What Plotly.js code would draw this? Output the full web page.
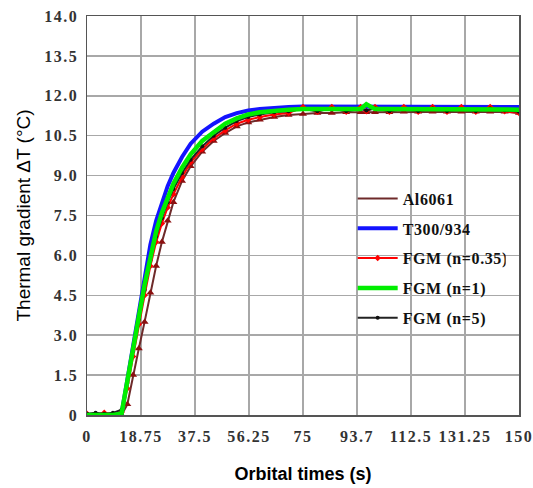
<!DOCTYPE html>
<html>
<head>
<meta charset="utf-8">
<script src="https://cdn.plot.ly/plotly-3.0.1.min.js"></script>
<style>
html,body{margin:0;padding:0;background:#fff;}
#chart{width:533px;height:488px;}
#chart .xtick text, #chart .ytick text{letter-spacing:1.5px;}
#chart .legendtext{letter-spacing:0.6px;}
</style>
</head>
<body>
<div id="chart"></div>
<script>
// Orbital time (s)
const timeS = [0,3,6,9,12,14,16,18,20,22,24,26,28,30,33,36,40,44,48,52,56,60,65,70,75,80,85,90,95,97,100,105,110,115,120,125,130,135,140,145,150];

// Thermal gradient ΔT (°C)
const al6061 = [0,0,0,0,0,0.4,1.5,2.5,3.5,4.6,5.6,6.5,7.3,8.0,8.8,9.35,9.9,10.3,10.6,10.85,11.0,11.1,11.2,11.28,
  11.32,11.35,11.35,11.38,11.38,11.38,11.38,11.38,11.4,11.4,11.4,11.4,11.4,11.4,11.4,11.4,11.35];
const t300 = [0,0,0,0,0.05,1.35,2.7,4.0,5.3,6.4,7.3,8.0,8.6,9.1,9.7,10.2,10.65,10.95,11.2,11.35,11.45,11.5,11.55,11.58,
  11.6,11.6,11.6,11.6,11.6,11.6,11.6,11.6,11.6,11.6,11.6,11.6,11.6,11.6,11.6,11.6,11.58];
const fgm035 = [0.05,0,0.08,0,0.1,1.0,2.2,3.4,4.5,5.6,6.5,7.2,7.8,8.3,8.95,9.5,10.0,10.4,10.7,10.95,11.1,11.2,11.3,11.35,
  11.58,11.4,11.58,11.4,11.58,11.42,11.58,11.4,11.58,11.4,11.58,11.4,11.58,11.4,11.58,11.42,11.35];
const fgm1 = [0,0,0,0,0.05,1.2,2.5,3.7,4.9,6.0,6.9,7.6,8.2,8.7,9.3,9.8,10.3,10.65,10.95,11.15,11.3,11.38,11.45,11.48,
  11.5,11.5,11.5,11.5,11.5,11.68,11.5,11.5,11.5,11.5,11.5,11.5,11.5,11.5,11.5,11.5,11.48];
const fgm5 = [0.05,0.08,0.05,0.08,0.2,1.2,2.4,3.6,4.7,5.8,6.7,7.4,8.0,8.5,9.1,9.6,10.1,10.5,10.8,11.05,11.2,11.3,11.38,11.42,
  11.5,11.42,11.52,11.42,11.5,11.45,11.52,11.42,11.5,11.42,11.52,11.42,11.5,11.42,11.52,11.45,11.4];

const xTicks = [0,18.75,37.5,56.25,75,93.75,112.5,131.25,150];
const xTickText = ["0","18.75","37.5","56.25","75","93.7","112.5","131.25","150"];
const yTicks = [0,1.5,3,4.5,6,7.5,9,10.5,12,13.5,15];
const yTickText = ["0","1.5","3.0","4.5","6.0","7.5","9.0","10.5","12.0","13.5","14.0"];

const traces = [
  {x: timeS, y: al6061, name: "Al6061", mode: "lines", legendgroup: "a",
   line: {color: "#6e2a2a", width: 2}},
  {x: timeS, y: al6061, name: "Al6061", mode: "markers", showlegend: false, legendgroup: "a",
   marker: {symbol: "triangle-up", size: 7, color: "#8b1010"}},
  {x: timeS, y: t300, name: "T300/934", mode: "lines", legendgroup: "b",
   line: {color: "#1414ff", width: 4}},
  {x: timeS, y: fgm035, name: "FGM (n=0.35)", mode: "lines+markers", legendgroup: "c",
   line: {color: "#ff0000", width: 2}, marker: {symbol: "diamond", size: 5, color: "#ff0000"}},
  {x: timeS, y: fgm5, name: "FGM (n=5)", mode: "lines+markers", legendgroup: "e",
   line: {color: "#222222", width: 2}, marker: {symbol: "circle", size: 4, color: "#111111"}},
  {x: timeS, y: fgm1, name: "FGM (n=1)", mode: "lines", legendgroup: "d",
   line: {color: "#00ee00", width: 4.5}}
];

const tickFont = {family: "Liberation Serif", size: 16, color: "#333333", weight: "bold"};
const layout = {
  width: 533, height: 488,
  margin: {l: 87, r: 14, t: 16, b: 73},
  paper_bgcolor: "#ffffff", plot_bgcolor: "#ffffff",
  showlegend: true,
  legend: {x: 0.615, y: 0.585, xanchor: "left", yanchor: "top", bgcolor: "rgba(0,0,0,0)",
    font: {family: "Liberation Serif", size: 16, color: "#111111", weight: "bold"},
    tracegroupgap: 6, traceorder: "grouped", itemwidth: 40},
  xaxis: {range: [0, 150], tickvals: xTicks, ticktext: xTickText, tickfont: tickFont,
    showgrid: true, gridcolor: "#a8a8a8", gridwidth: 1.5, zeroline: false,
    showline: true, mirror: true, linecolor: "#555555", linewidth: 1.5, ticks: "", ticklabelstandoff: 6,
    title: {text: "Orbital times (s)", font: {family: "Liberation Sans", size: 18, color: "#000", weight: "bold"}, standoff: 23}},
  yaxis: {range: [0, 15], tickvals: yTicks, ticktext: yTickText, tickfont: tickFont,
    showgrid: true, gridcolor: "#a8a8a8", gridwidth: 1.5, zeroline: false,
    showline: true, mirror: true, linecolor: "#555555", linewidth: 1.5, ticks: "", ticklabelstandoff: 4,
    title: {text: "Thermal gradient ΔT (°C)", font: {family: "Liberation Sans", size: 19, color: "#000"}, standoff: 14}}
};

// legend order: Al6061, T300/934, FGM(n=0.35), FGM(n=1), FGM(n=5)
const legendRank = {"a": 1, "b": 2, "c": 3, "d": 4, "e": 5};
traces.forEach(t => { t.legendrank = legendRank[t.legendgroup]; });

Plotly.newPlot("chart", traces, layout, {displayModeBar: false, staticPlot: true});
</script>
</body>
</html>
